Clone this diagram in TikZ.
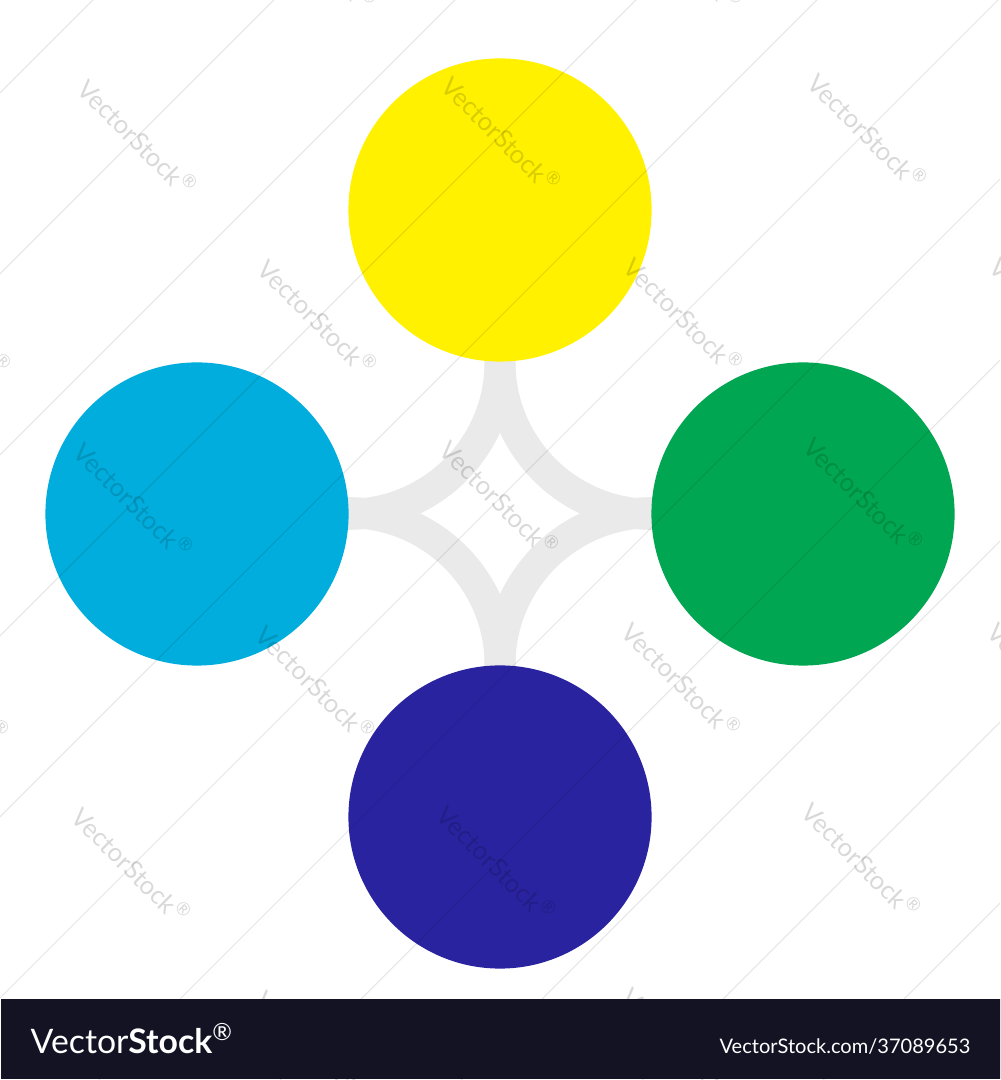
\documentclass[tikz,border=0pt]{standalone}
\usepackage{fontspec}
\setmainfont{Lato}
\usetikzlibrary{backgrounds}
\definecolor{cyel}{RGB}{255,241,0}
\definecolor{ccyan}{RGB}{0,173,220}
\definecolor{cgreen}{RGB}{0,166,81}
\definecolor{cnavy}{RGB}{42,35,160}
\definecolor{cband}{RGB}{234,234,234}
\definecolor{cbar}{RGB}{19,19,36}
\begin{document}
\begin{tikzpicture}[x=0.01cm,y=0.01cm,
  disc/.style={circle,inner sep=0pt,minimum size=3.03cm},
  band/.style={draw=cband,line width=8.8pt,line cap=round},
  wmark/.style={rotate=-45,text=black,text opacity=0.15,inner sep=0pt,font=\fontsize{7.3}{8}\selectfont},
  wline/.style={draw=black,draw opacity=0.1,line width=0.3pt},
  bartext/.style={text=white,inner sep=0pt}]
\useasboundingbox (0,0) rectangle (1000,1080);
\clip (0,0) rectangle (1000,1080);
\node[disc,fill=cyel] (yellow) at (500,870) {};
\node[disc,fill=ccyan] (cyan) at (197,566) {};
\node[disc,fill=cgreen] (green) at (803,566) {};
\node[disc,fill=cnavy] (navy) at (500,263) {};
\begin{scope}[on background layer]
  \fill[white] (0,0) rectangle (1000,1080);
  \draw[band] (yellow.south) arc[start angle=0,end angle=-90,radius=1.52cm];
  \draw[band] (yellow.south) arc[start angle=180,end angle=270,radius=1.52cm];
  \draw[band] (navy.north) arc[start angle=0,end angle=90,radius=1.52cm];
  \draw[band] (navy.north) arc[start angle=180,end angle=90,radius=1.52cm];
\end{scope}
\foreach \k in {0,...,11}
  \draw[wline] (0,{1080-93-181*\k}) -- (1000,{2080-93-181*\k});
\foreach \px/\py [count=\i] in {318/-48, 684/-48, 138/137, 502/134, 868/131, -48/317, 318/317, 684/315, 1050/315, 134/500, 500/498, 864/495, -50/683, 316/683, 682/680, 1048/680, 132/865, 497/863, 862/860, 316/1048, 682/1045}
  \node[wmark] (wm\i) at (\px,{1080-(\py)}) {VectorStock\textsuperscript{®}};
\node[fill=cbar,minimum width=10cm,minimum height=0.8cm,anchor=south west,inner sep=0pt] (bar) at (0,0) {};
\node[bartext,anchor=base west,font=\fontsize{9.6}{11}\selectfont] (logo) at (30,27) {Vector\textbf{Stock}\textsuperscript{®}};
\node[bartext,anchor=base east,font=\fontsize{5.7}{7}\selectfont] (url) at (971,27) {VectorStock.com/37089653};
\end{tikzpicture}
\end{document}
